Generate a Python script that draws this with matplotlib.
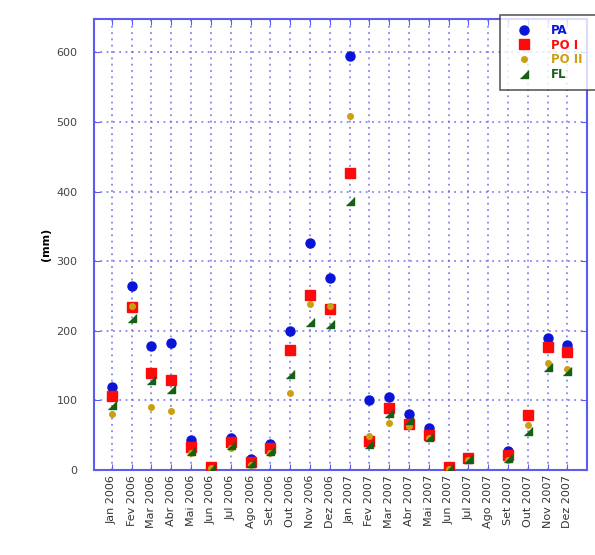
import numpy as np
import matplotlib
matplotlib.use("Agg")
import matplotlib.pyplot as plt

# monthly values (mm), Ago 2007 missing
months = ["Jan 2006", "Fev 2006", "Mar 2006", "Abr 2006", "Mai 2006", "Jun 2006",
          "Jul 2006", "Ago 2006", "Set 2006", "Out 2006", "Nov 2006", "Dez 2006",
          "Jan 2007", "Fev 2007", "Mar 2007", "Abr 2007", "Mai 2007", "Jun 2007",
          "Jul 2007", "Ago 2007", "Set 2007", "Out 2007", "Nov 2007", "Dez 2007"]
pa = [120, 265, 178, 182, 43, 4, 46, 16, 38, 200, 326, 276,
      594, 101, 105, 80, 60, 3, 18, np.nan, 28, 79, 190, 180]
po1 = [106, 234, 140, 130, 33, 4, 40, 12, 31, 173, 251, 231,
       426, 42, 89, 66, 50, 4, 17, np.nan, 22, 79, 177, 169]
po2 = [80, 236, 90, 85, 25, 3, 32, 8, 24, 111, 238, 235,
       508, 49, 68, 63, 46, 2, 14, np.nan, 15, 65, 154, 145]
fl = [93, 218, 129, 116, 27, 3, 36, 10, 28, 138, 212, 210,
      386, 37, 82, 72, 47, 3, 16, np.nan, 18, 56, 148, 142]

grid_blue = "#5c5cf0"
tri = [(-1, -1), (1, -1), (1, 1)]

fig = plt.figure(figsize=(5.95, 5.55), dpi=100)
ax = fig.add_axes([0.158, 0.153, 0.829, 0.813])
x = np.arange(len(months))

ax.plot(x, pa, "o", color="#0a14d8", ms=6.5, ls="none", label="PA", zorder=3)
ax.plot(x, po1, "s", color="#ff0a0a", ms=7, ls="none", label="PO I", zorder=4)
ax.plot(x, po2, "o", color="#c8a010", ms=4, ls="none", label="PO II", zorder=5)
ax.plot(x, fl, marker=tri, color="#156015", ms=6, ls="none", label="FL", zorder=6)

ax.set_xlim(-0.9, 24)
ax.set_ylim(0, 648)
ax.set_yticks(range(0, 700, 100))
ax.set_xticks(x)
ax.set_xticklabels(months, rotation=90, fontsize=8, color="#333333")
ax.tick_params(axis="y", labelsize=8, colors="#444444", pad=12)
ax.tick_params(direction="in", color=grid_blue, top=True, right=True, length=4)
ax.grid(True, color=grid_blue, linestyle=(0, (1, 2.5)), linewidth=1.3, alpha=0.75)
for s in ax.spines.values():
    s.set_color(grid_blue)
    s.set_linewidth(1.5)
ax.set_ylabel("(mm)", fontsize=8, fontweight="bold", labelpad=4)

leg = fig.legend(loc="upper left", bbox_to_anchor=(494 / 595, 1 - 9 / 555, 110 / 595, 0),
                 mode="expand", frameon=True, fancybox=False, edgecolor="#333333",
                 prop={"weight": "bold", "size": 8.5}, handletextpad=1.0,
                 handlelength=2.6, borderpad=0.75, labelspacing=0.15)
leg.get_frame().set_linewidth(1.2)
for t, c in zip(leg.get_texts(), ["#0a14d8", "#ff0a0a", "#c8a010", "#156015"]):
    t.set_color(c)

fig.savefig("out.png", dpi=100)
